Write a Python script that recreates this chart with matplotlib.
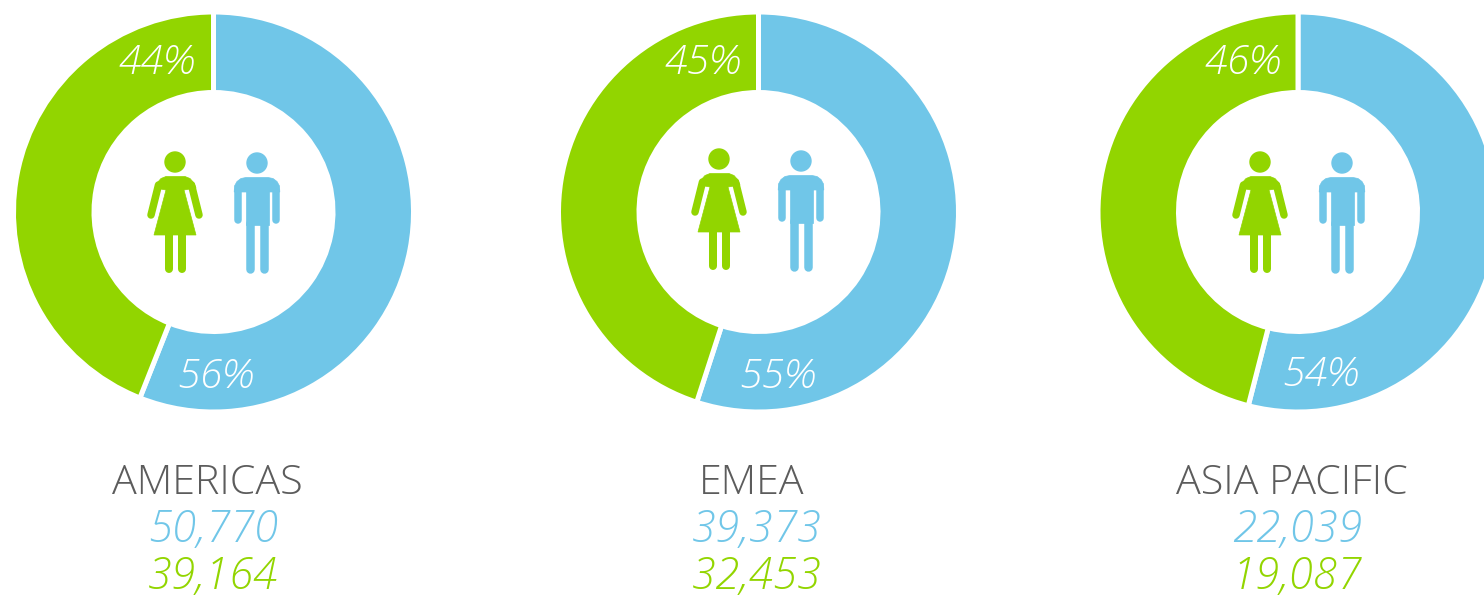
import matplotlib
matplotlib.use('Agg')
import matplotlib.pyplot as plt
from matplotlib.patches import Circle, Polygon

plt.rcParams['font.family'] = ['Open Sans', 'DejaVu Sans']

# data
regions = ['AMERICAS', 'EMEA', 'ASIA PACIFIC']
men_pct = [56, 55, 54]
women_pct = [44, 45, 46]
men_count = ['50,770', '39,373', '22,039']
women_count = ['39,164', '32,453', '19,087']

BLUE = '#70C6E8'
GREEN = '#92D500'
GREY = '#5c5c5c'

W, H = 1484, 597
centers = [(213.5, 212), (758.5, 212), (1298, 212)]
radius = 200
inner = 119.5
title_x = [207, 752, 1292]
count_x = [213, 757, 1297]
women_lab = [(157, 63), (703, 63), (1243, 63)]
men_lab = [(215, 377), (777, 377), (1320, 375)]
woman_head = [(175, 162), (719, 159), (1260, 162)]
man_head = [(257, 163), (801, 161), (1342, 163)]

fig = plt.figure(figsize=(W / 100, H / 100), dpi=100)
ax = fig.add_axes([0, 0, 1, 1])


def yy(py):
    # picture pixels run downwards, the axes upwards
    return H - py


def px_lw(px):
    return px * 72 / 100


def limb(hx, hy, x0, y0, x1, y1, color, width):
    ax.plot([hx + x0, hx + x1], [yy(hy + y0), yy(hy + y1)], color=color,
            lw=px_lw(width), solid_capstyle='round', zorder=5)


def shape(hx, hy, pts, color):
    ax.add_patch(Polygon([(hx + x, yy(hy + y)) for x, y in pts], closed=True,
                         facecolor=color, edgecolor=color, lw=0.5, zorder=5))


def draw_woman(hx, hy):
    ax.add_patch(Circle((hx, yy(hy)), 10, color=GREEN, zorder=5))
    shape(hx, hy, [(-20, 26), (-18, 21), (-14, 16.5), (-9, 14.5), (10, 14.5), (15, 16.5),
                   (19, 21), (21, 26), (9, 28), (21, 73), (-21, 73), (-9, 28)], GREEN)
    limb(hx, hy, -16.5, 23, -24, 53, GREEN, 7.5)
    limb(hx, hy, 16.5, 23, 24, 53, GREEN, 7.5)
    limb(hx, hy, -6.5, 72, -6.5, 107, GREEN, 8)
    limb(hx, hy, 6.5, 72, 6.5, 107, GREEN, 8)


def draw_man(hx, hy):
    ax.add_patch(Circle((hx, yy(hy)), 10, color=BLUE, zorder=5))
    shape(hx, hy, [(-22.8, 29), (-22.5, 23), (-20, 18.5), (-16, 15.5), (-11, 14.5), (11, 14.5),
                   (16, 15.5), (20, 18.5), (22.5, 23), (22.8, 29)], BLUE)
    shape(hx, hy, [(-11.5, 28), (11.5, 28), (11.5, 62), (-11.5, 62)], BLUE)
    limb(hx, hy, -19, 27, -19, 57, BLUE, 7.5)
    limb(hx, hy, 19, 27, 19, 57, BLUE, 7.5)
    limb(hx, hy, -7, 60, -7, 106, BLUE, 8.5)
    limb(hx, hy, 7, 60, 7, 106, BLUE, 8.5)


for i in range(3):
    cx, cy = centers[i]
    ax.pie([men_pct[i], women_pct[i]], colors=[BLUE, GREEN], startangle=90,
           counterclock=False, center=(cx, yy(cy)), radius=radius,
           wedgeprops=dict(width=radius - inner, edgecolor='white', linewidth=px_lw(5)))

    x, y = women_lab[i]
    ax.text(x, yy(y), f'{women_pct[i]}%', color='white', fontsize=29.5, style='italic',
            weight='light', ha='center', va='center', zorder=6)
    x, y = men_lab[i]
    ax.text(x, yy(y), f'{men_pct[i]}%', color='white', fontsize=29.5, style='italic',
            weight='light', ha='center', va='center', zorder=6)

    draw_woman(*woman_head[i])
    draw_man(*man_head[i])

    ax.text(title_x[i], yy(484), regions[i], color=GREY, fontsize=29.7, weight='light',
            ha='center', va='center')
    ax.text(count_x[i], yy(530), men_count[i], color=BLUE, fontsize=31.5, style='italic',
            weight='light', ha='center', va='center')
    ax.text(count_x[i], yy(577), women_count[i], color=GREEN, fontsize=31.5, style='italic',
            weight='light', ha='center', va='center')

ax.set_xlim(0, W)
ax.set_ylim(0, H)
ax.set_aspect('equal')
ax.axis('off')

fig.savefig('out.png', dpi=100)
